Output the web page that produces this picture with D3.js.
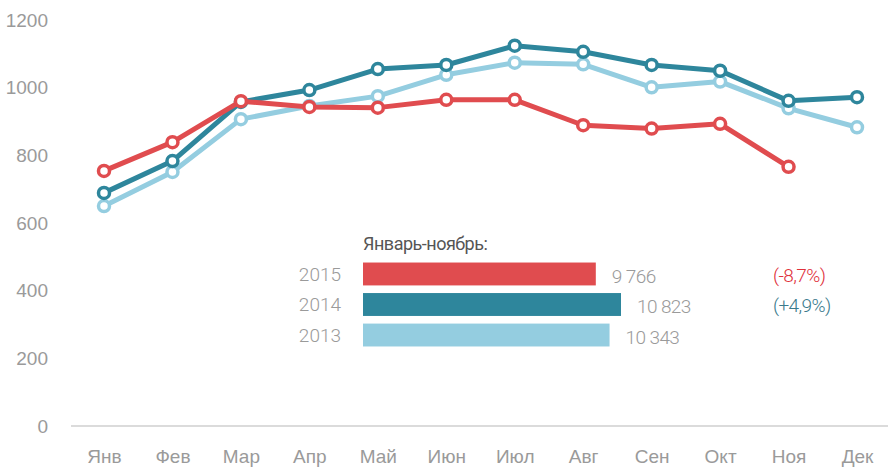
<!DOCTYPE html>
<html>
<head>
<meta charset="utf-8">
<script src="https://cdn.jsdelivr.net/npm/d3@7"></script>
<style>
  body { margin: 0; background: #fff; }
  svg { display: block; font-family: Roboto, "Open Sans", sans-serif; }
  .tick-label { fill: #9a9a9a; font-weight: 300; font-size: 19px; }
</style>
</head>
<body>
<div id="chart"></div>
<script>
// months and monthly values
const months = ['Янв', 'Фев', 'Мар', 'Апр', 'Май', 'Июн', 'Июл', 'Авг', 'Сен', 'Окт', 'Ноя', 'Дек'];
const yTicks = [0, 200, 400, 600, 800, 1000, 1200];
const values2013 = [650, 751, 907, 946, 975, 1038, 1074, 1069, 1001, 1018, 939, 883];
const values2014 = [689, 783, 958, 993, 1055, 1067, 1124, 1106, 1067, 1050, 961, 972];
const values2015 = [754, 839, 960, 943, 941, 964, 964, 889, 879, 893, 766];

// january-november totals
const totalYears = ['2015', '2014', '2013'];
const totalValues = [9766, 10823, 10343];
const totalLabels = ['9 766', '10 823', '10 343'];
const changeLabels = ['(-8,7%)', '(+4,9%)', ''];
const totalTitle = 'Январь-ноябрь:';

const width = 888;
const height = 467;

const svg = d3.select('#chart').append('svg')
  .attr('width', width)
  .attr('height', height);

const xScale = d3.scalePoint().domain(months).range([104, 857]);
const yScale = d3.scaleLinear().domain([0, 1200]).range([426, 20]);

// y axis labels
const yaxis = d3.axisLeft(yScale).tickValues(yTicks).tickFormat(d3.format('d')).tickSize(0).tickPadding(0);
const gy = svg.append('g')
  .attr('transform', 'translate(48,0)')
  .call(yaxis);
gy.select('.domain').remove();
gy.selectAll('text').attr('class', 'tick-label');

// baseline
svg.append('line')
  .attr('x1', 71).attr('x2', width)
  .attr('y1', yScale(0)).attr('y2', yScale(0))
  .attr('stroke', '#cfcfcf')
  .attr('stroke-width', 1.5);

// x axis labels
const xaxis = d3.axisBottom(xScale).tickSize(0).tickPadding(24);
const gx = svg.append('g')
  .attr('transform', 'translate(0,' + yScale(0) + ')')
  .call(xaxis);
gx.select('.domain').remove();
gx.selectAll('text').attr('class', 'tick-label');

svg.selectAll('.tick-label').attr('font-family', null);

// lines
const series = [
  { values: values2013, color: '#94cde0' },
  { values: values2014, color: '#2e869c' },
  { values: values2015, color: '#e04c4f' }
];

const line = d3.line()
  .x((d, i) => xScale(months[i]))
  .y(d => yScale(d));

series.forEach(s => {
  svg.append('path')
    .datum(s.values)
    .attr('d', line)
    .attr('fill', 'none')
    .attr('stroke', s.color)
    .attr('stroke-width', 5)
    .attr('stroke-linejoin', 'round');

  svg.selectAll(null)
    .data(s.values)
    .enter().append('circle')
    .attr('cx', (d, i) => xScale(months[i]))
    .attr('cy', d => yScale(d))
    .attr('r', 5.5)
    .attr('fill', '#fff')
    .attr('stroke', s.color)
    .attr('stroke-width', 3.5);
});

// totals block
const barColors = ['#e04c4f', '#2e869c', '#94cde0'];
const changeColors = ['#e0303a', '#3a7a8c', '#3a7a8c'];
const barX = 363;
const barScale = d3.scaleLinear().domain([0, 10823]).range([0, 258]);
const barY = d3.scaleBand().domain(totalYears).range([261, 348]).paddingInner(0.25).paddingOuter(0.05);

svg.append('text')
  .attr('x', barX)
  .attr('y', 250)
  .attr('fill', '#555')
  .attr('font-size', '18px')
  .attr('font-weight', 400)
  .attr('letter-spacing', '-0.5px')
  .text(totalTitle);

const rows = svg.selectAll('.total-row')
  .data(totalYears)
  .enter().append('g')
  .attr('class', 'total-row');

rows.append('rect')
  .attr('x', barX)
  .attr('y', d => barY(d))
  .attr('width', (d, i) => barScale(totalValues[i]))
  .attr('height', barY.bandwidth())
  .attr('fill', (d, i) => barColors[i]);

rows.append('text')
  .attr('class', 'tick-label')
  .attr('x', 341)
  .attr('y', d => barY(d) + barY.bandwidth() / 2)
  .attr('dy', '0.35em')
  .attr('text-anchor', 'end')
  .text(d => d);

rows.append('text')
  .attr('class', 'tick-label')
  .attr('x', (d, i) => barX + barScale(totalValues[i]) + 16)
  .attr('y', d => barY(d) + barY.bandwidth() / 2 + 2)
  .attr('dy', '0.35em')
  .attr('letter-spacing', '-0.6px')
  .text((d, i) => totalLabels[i]);

rows.append('text')
  .attr('x', 773)
  .attr('y', d => barY(d) + barY.bandwidth() / 2 + 1)
  .attr('dy', '0.35em')
  .attr('font-size', '19px')
  .attr('font-weight', 300)
  .attr('letter-spacing', '-0.6px')
  .attr('fill', (d, i) => changeColors[i])
  .text((d, i) => changeLabels[i]);
</script>
</body>
</html>
